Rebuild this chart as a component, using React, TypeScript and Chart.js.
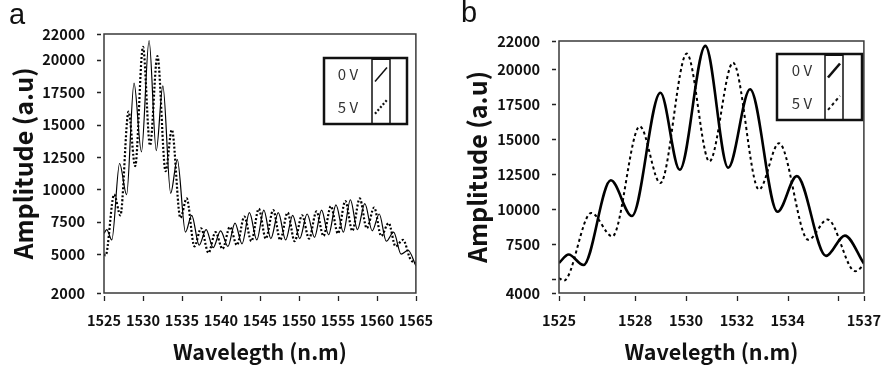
import React, { useEffect, useRef } from "react";
import { Chart, registerables } from "chart.js";

Chart.register(...registerables);

// ---------- Panel a (full band) ----------
const aWave0V = [1525.0, 1525.35, 1526.0, 1527.0, 1527.9, 1528.85, 1529.8, 1530.78, 1531.7, 1532.55, 1533.55, 1534.4, 1535.45, 1536.25, 1537.2, 1538.1, 1539.0, 1539.95, 1540.9, 1541.8, 1542.7, 1543.65, 1544.6, 1545.5, 1546.4, 1547.35, 1548.3, 1549.2, 1550.1, 1551.05, 1552.0, 1552.9, 1553.8, 1554.75, 1555.7, 1556.6, 1557.5, 1558.45, 1559.4, 1560.3, 1561.2, 1562.15, 1563.1, 1564.0, 1565.0];
const aAmp0V = [6600, 6900, 6100, 12000, 9600, 18200, 12900, 21500, 13000, 18000, 9700, 12300, 6700, 8000, 5700, 6900, 5500, 6800, 5600, 7400, 5800, 8200, 6100, 8400, 6200, 8200, 6100, 8000, 6200, 8100, 6300, 8400, 6500, 8800, 6700, 9200, 6900, 8900, 6800, 8100, 6000, 6700, 5000, 5300, 4100];
const aWave5V = [1525.0, 1525.2, 1526.3, 1527.1, 1528.15, 1529.0, 1530.0, 1530.9, 1531.85, 1532.9, 1533.7, 1534.8, 1535.6, 1536.6, 1537.45, 1538.4, 1539.3, 1540.2, 1541.15, 1542.05, 1543.0, 1543.9, 1544.85, 1545.75, 1546.7, 1547.6, 1548.55, 1549.45, 1550.4, 1551.3, 1552.25, 1553.15, 1554.1, 1555.0, 1555.95, 1556.85, 1557.8, 1558.7, 1559.65, 1560.55, 1561.5, 1562.4, 1563.35, 1564.3, 1565.0];
const aAmp5V = [5000, 4900, 9600, 8000, 16000, 11800, 21000, 13400, 20300, 11400, 14600, 7800, 9300, 5600, 7000, 5100, 6700, 5400, 7100, 5700, 7900, 6000, 8500, 6200, 8400, 6100, 8200, 6000, 8000, 6200, 8300, 6400, 8700, 6600, 9100, 6800, 9300, 7000, 8600, 6400, 7400, 5600, 6100, 4600, 4300];
const aXTicks = [1525, 1530, 1535, 1540, 1545, 1550, 1555, 1560, 1565];
const aXLabels = [1525, 1530, 1535, 1540, 1545, 1550, 1555, 1560, 1565];
const aYTicks = [2000, 5000, 7500, 10000, 12500, 15000, 17500, 20000, 22000];
const aYLabels = [2000, 5000, 7500, 10000, 12500, 15000, 17500, 20000, 22000];

// ---------- Panel b (zoom on main peak) ----------
const bWave0V = [1525.0, 1525.38, 1525.96, 1527.04, 1527.87, 1528.99, 1529.75, 1530.76, 1531.66, 1532.52, 1533.6, 1534.36, 1535.51, 1536.25, 1537.0];
const bAmp0V = [6150, 6750, 6000, 12050, 9500, 18300, 12800, 21650, 12950, 18550, 9800, 12350, 6650, 8100, 6100];
const bWave5V = [1525.0, 1525.19, 1526.27, 1527.1, 1528.18, 1528.99, 1530.03, 1530.92, 1531.85, 1532.87, 1533.66, 1534.81, 1535.57, 1536.66, 1537.0];
const bAmp5V = [5070, 4880, 9720, 8050, 15900, 11850, 21100, 13400, 20450, 11400, 14700, 7800, 9250, 5550, 6000];
const bXTicks = [1525, 1526, 1528, 1530, 1532, 1534, 1536, 1537];
const bXLabels = [1525, 1528, 1530, 1532, 1534, 1537];
const bYTicks = [4000, 5000, 7500, 10000, 12500, 15000, 17500, 20000, 22000];
const bYLabels = [4000, 7500, 10000, 12500, 15000, 17500, 20000, 22000];

const seriesLabels = ["0 V", "5 V"];
const xTitle = "Wavelegth (n.m)";
const yTitle = "Amplitude (a.u)";
const panelLetters = ["a", "b"];

const FONT = "'Noto Sans CJK KR', 'Source Sans Pro', 'DejaVu Sans Condensed', sans-serif";

const framePlugin = {
  id: "frame",
  afterDraw(chart: any, _args: any, opts: any) {
    const { ctx, chartArea: a } = chart;
    const xs = chart.scales.x;
    const ys = chart.scales.y;
    ctx.save();
    ctx.strokeStyle = "#3a3a3a";
    ctx.lineWidth = 1.5;
    ctx.strokeRect(a.left, a.top, a.right - a.left, a.bottom - a.top);
    ctx.lineWidth = 1.3;
    ctx.strokeStyle = "#222";
    ctx.beginPath();
    ys.ticks.forEach((t: any) => {
      const p = Math.round(ys.getPixelForValue(t.value)) + 0.5;
      ctx.moveTo(a.left - 7, p);
      ctx.lineTo(a.left - 3, p);
    });
    xs.ticks.forEach((t: any) => {
      const p = Math.round(xs.getPixelForValue(t.value)) + 0.5;
      ctx.moveTo(p, a.bottom + 3);
      ctx.lineTo(p, a.bottom + 8);
    });
    ctx.stroke();

    const L = opts.legend;
    if (L) {
      ctx.fillStyle = "#fff";
      ctx.fillRect(L.x, L.y, L.w, L.h);
      ctx.strokeStyle = "#111";
      ctx.lineWidth = 2.5;
      ctx.strokeRect(L.x, L.y, L.w, L.h);
      ctx.lineWidth = 1.5;
      ctx.strokeRect(L.colX, L.y, L.colW, L.h);
      ctx.fillStyle = "#111";
      ctx.fillRect(L.colX, L.y - 1, L.colW, 3);
      ctx.font = `15px ${FONT}`;
      ctx.textAlign = "center";
      ctx.textBaseline = "middle";
      const rows = [0.25, 0.74];
      chart.data.datasets.forEach((ds: any, i: number) => {
        const cy = L.y + L.h * rows[i];
        ctx.fillStyle = "#333";
        ctx.fillText(ds.label, L.textX, cy);
        ctx.strokeStyle = "#111";
        ctx.setLineDash(ds.borderDash || []);
        ctx.lineWidth = Math.max(1.5, ds.borderWidth);
        ctx.beginPath();
        ctx.moveTo(L.colX + 3, cy + 7);
        ctx.lineTo(L.colX + L.colW - 3, cy - 7);
        ctx.stroke();
      });
      ctx.setLineDash([]);
    }
    ctx.restore();
  },
};

function pts(xs: number[], ys: number[]) {
  return xs.map((x, i) => ({ x, y: ys[i] }));
}

type Spec = {
  left: number;
  width: number;
  height: number;
  area: { left: number; top: number; right: number; bottom: number };
  w0: number[]; a0: number[]; w5: number[]; a5: number[];
  xMin: number; xMax: number; yMin: number; yMax: number;
  xTicks: number[]; xLabels: number[]; yTicks: number[]; yLabels: number[];
  solidWidth: number; dotWidth: number; dotDash: number[];
  yTitlePad: number;
  legend: any;
};

function Panel({ spec }: { spec: Spec }) {
  const ref = useRef<HTMLCanvasElement | null>(null);
  useEffect(() => {
    if (!ref.current) return;
    const s = spec;
    const chart = new Chart(ref.current, {
      type: "line",
      data: {
        datasets: [
          {
            label: seriesLabels[0],
            data: pts(s.w0, s.a0),
            borderColor: "#000",
            borderWidth: s.solidWidth,
            pointRadius: 0,
            cubicInterpolationMode: "monotone",
            fill: false,
          },
          {
            label: seriesLabels[1],
            data: pts(s.w5, s.a5),
            borderColor: "#000",
            borderWidth: s.dotWidth,
            borderDash: s.dotDash,
            pointRadius: 0,
            cubicInterpolationMode: "monotone",
            fill: false,
          },
        ],
      },
      options: {
        animation: false,
        responsive: false,
        maintainAspectRatio: false,
        layout: {
          padding: { left: 0, top: s.area.top, right: s.width - s.area.right, bottom: 0 },
        },
        plugins: {
          legend: { display: false },
          tooltip: { enabled: false },
          frame: { legend: s.legend },
        } as any,
        scales: {
          x: {
            type: "linear",
            min: s.xMin,
            max: s.xMax,
            afterBuildTicks: (sc: any) => {
              sc.ticks = s.xTicks.map((v) => ({ value: v }));
            },
            afterFit: (sc: any) => {
              sc.height = s.height - s.area.bottom;
            },
            ticks: {
              autoSkip: false,
              maxRotation: 0,
              padding: 12,
              color: "#111",
              font: { family: FONT, size: 14.5, weight: "bold" },
              callback: (v: any) => (s.xLabels.includes(Number(v)) ? String(v) : ""),
            },
            grid: { display: true, drawOnChartArea: false, drawTicks: true, tickLength: 7, tickColor: "rgba(0,0,0,0)" },
            border: { display: false },
            title: {
              display: true,
              text: xTitle,
              color: "#111",
              font: { family: FONT, size: 21.5, weight: "bold" },
              padding: { top: 0, bottom: 8 },
            },
          },
          y: {
            type: "linear",
            min: s.yMin,
            max: s.yMax,
            afterBuildTicks: (sc: any) => {
              sc.ticks = s.yTicks.map((v) => ({ value: v }));
            },
            afterFit: (sc: any) => {
              sc.width = s.area.left;
            },
            ticks: {
              autoSkip: false,
              padding: 12,
              color: "#111",
              font: { family: FONT, size: 14.5, weight: "bold" },
              callback: (v: any) => (s.yLabels.includes(Number(v)) ? String(v) : ""),
            },
            grid: { display: true, drawOnChartArea: false, drawTicks: true, tickLength: 7, tickColor: "rgba(0,0,0,0)" },
            border: { display: false },
            title: {
              display: true,
              text: yTitle,
              color: "#111",
              font: { family: FONT, size: 25, weight: "bold" },
              padding: { top: s.yTitlePad, bottom: 0 },
            },
          },
        },
      },
      plugins: [framePlugin],
    } as any);
    return () => chart.destroy();
  }, [spec]);
  return (
    <canvas
      ref={ref}
      width={spec.width}
      height={spec.height}
      style={{ position: "absolute", left: spec.left, top: 0, width: spec.width, height: spec.height }}
    />
  );
}

const specA: Spec = {
  left: 0,
  width: 445,
  height: 373,
  area: { left: 104, top: 34, right: 418, bottom: 293 },
  w0: aWave0V, a0: aAmp0V, w5: aWave5V, a5: aAmp5V,
  xMin: 1525, xMax: 1565, yMin: 2000, yMax: 22000,
  xTicks: aXTicks, xLabels: aXLabels, yTicks: aYTicks, yLabels: aYLabels,
  solidWidth: 1.2, dotWidth: 2.2, dotDash: [2, 2],
  yTitlePad: 8,
  legend: { x: 324, y: 58, w: 83, h: 66, colX: 372, colW: 18, textX: 348 },
};

const specB: Spec = {
  left: 450,
  width: 443,
  height: 373,
  area: { left: 109, top: 41, right: 424, bottom: 293 },
  w0: bWave0V, a0: bAmp0V, w5: bWave5V, a5: bAmp5V,
  xMin: 1525, xMax: 1537, yMin: 4000, yMax: 22000,
  xTicks: bXTicks, xLabels: bXLabels, yTicks: bYTicks, yLabels: bYLabels,
  solidWidth: 2.6, dotWidth: 2, dotDash: [3, 3],
  yTitlePad: 12,
  legend: { x: 327, y: 54, w: 85, h: 66, colX: 375, colW: 18, textX: 352 },
};

export default function App() {
  return (
    <div style={{ position: "fixed", left: 0, top: 0, width: 893, height: 373, background: "#fff", overflow: "hidden" }}>
      <Panel spec={specA} />
      <Panel spec={specB} />
      <div style={{ position: "absolute", left: 9, top: 0, fontFamily: "'Liberation Sans', Arial, sans-serif", fontSize: 29, lineHeight: "29px", color: "#111" }}>
        {panelLetters[0]}
      </div>
      <div style={{ position: "absolute", left: 461, top: -2, fontFamily: "'Liberation Sans', Arial, sans-serif", fontSize: 29, lineHeight: "29px", color: "#111" }}>
        {panelLetters[1]}
      </div>
    </div>
  );
}
